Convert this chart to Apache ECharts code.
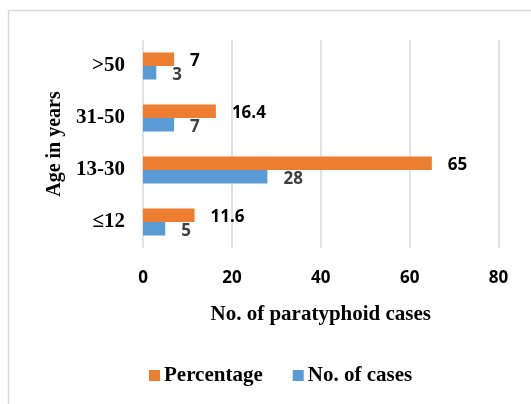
<!DOCTYPE html>
<html>
<head>
<meta charset="utf-8">
<script src="https://cdn.jsdelivr.net/npm/echarts@6/dist/echarts.min.js"></script>
<style>
html,body{margin:0;padding:0;background:#fff;}
#chart{width:531px;height:404px;}
</style>
</head>
<body>
<div id="chart"></div>
<script>
var categories = ['\u226412', '13-30', '31-50', '>50'];
var percentage = [11.6, 65, 16.4, 7];
var cases = [5, 28, 7, 3];
var xTicks = [0, 20, 40, 60, 80];

var chart = echarts.init(document.getElementById('chart'), null, {renderer: 'canvas'});
var serif = '"Liberation Serif", "Times New Roman", serif';
var sans = '"Open Sans", sans-serif';

chart.setOption({
  animation: false,
  backgroundColor: '#fff',
  graphic: [
    {type: 'line', shape: {x1: 8.5, y1: 10.5, x2: 531, y2: 10.5}, style: {stroke: '#d9d9d9', lineWidth: 1.5}},
    {type: 'line', shape: {x1: 8.5, y1: 10.5, x2: 8.5, y2: 404}, style: {stroke: '#d9d9d9', lineWidth: 1.5}}
  ],
  grid: {left: 143, right: 32.5, top: 40, height: 208, containLabel: false},
  legend: {
    data: ['Percentage', 'No. of cases'],
    left: 144, top: 360,
    icon: 'rect', itemWidth: 11, itemHeight: 11, itemGap: 30,
    textStyle: {fontFamily: serif, fontWeight: 'bold', fontSize: 21, color: '#000', padding: [0, 0, 0, -1]}
  },
  xAxis: {
    type: 'value', min: xTicks[0], max: xTicks[xTicks.length - 1], interval: 20,
    axisLine: {show: false}, axisTick: {show: false},
    splitLine: {show: true, lineStyle: {color: '#d9d9d9', width: 1.5}},
    axisLabel: {fontFamily: sans, fontWeight: 'bold', fontSize: 17, color: '#000', margin: 22},
    name: 'No. of paratyphoid cases', nameLocation: 'middle', nameGap: 56,
    nameTextStyle: {fontFamily: serif, fontWeight: 'bold', fontSize: 21, color: '#000'}
  },
  yAxis: {
    type: 'category', data: categories,
    axisLine: {show: false}, axisTick: {show: false},
    axisLabel: {fontFamily: serif, fontWeight: 'bold', fontSize: 21, color: '#000', margin: 18},
    name: 'Age in years', nameLocation: 'middle', nameGap: 76, nameRotate: 90,
    nameTextStyle: {fontFamily: serif, fontWeight: 'bold', fontSize: 20, color: '#000'}
  },
  series: [
    {
      name: 'Percentage', type: 'bar', data: percentage,
      barGap: '0%', barCategoryGap: '48%',
      itemStyle: {color: '#ED7D31'},
      label: {show: true, position: 'right', distance: 16, offset: [0, 2],
        fontFamily: sans, fontWeight: 'bold', fontSize: 17, color: '#000'}
    },
    {
      name: 'No. of cases', type: 'bar', data: cases,
      barGap: '0%', barCategoryGap: '48%',
      itemStyle: {color: '#5B9BD5'},
      label: {show: true, position: 'right', distance: 16, offset: [0, 2],
        fontFamily: sans, fontWeight: 'bold', fontSize: 17, color: '#404040'}
    }
  ]
});
</script>
</body>
</html>
